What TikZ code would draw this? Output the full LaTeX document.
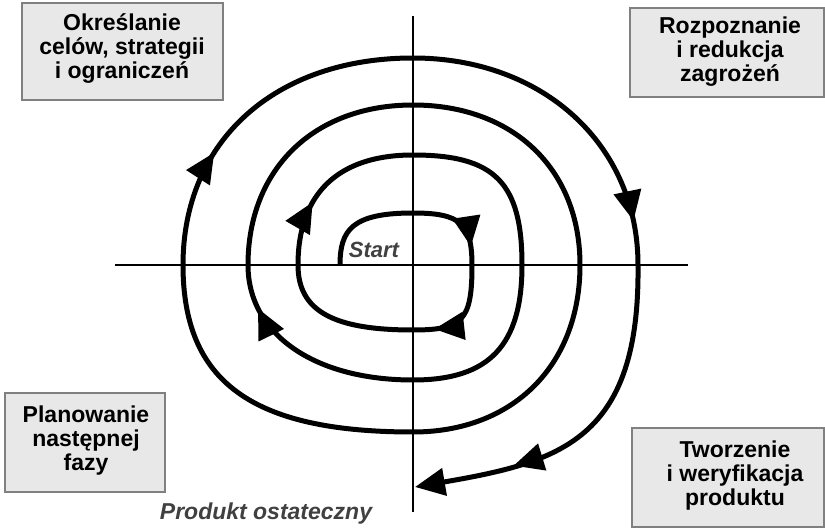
\documentclass[tikz,border=0pt]{standalone}
\usepackage{fontspec}
\setmainfont{Liberation Sans}
\usetikzlibrary{arrows.meta,decorations.markings}
\definecolor{boxfill}{HTML}{E8E8E8}
\definecolor{boxline}{HTML}{808080}
\definecolor{labgray}{HTML}{404040}
\tikzset{
  boxtext/.style={align=center,font=\fontsize{23bp}{24bp}\selectfont\bfseries,text=black,inner sep=0pt},
  phasebox/.style={fill=boxfill,draw=boxline,line width=1.5bp},
  axis/.style={line width=1.8bp,black},
  spiral/.style={line width=5bp,black},
  bigtri/.tip={Triangle[length=30bp,width=27bp]},
  midarrow/.style={postaction={decorate},decoration={markings,mark=at position #1 with {\arrow{bigtri}}}},
}
\begin{document}
\begin{tikzpicture}[x=1bp,y=-1bp]
\useasboundingbox (0,0) rectangle (825,528);
% boxes
\draw[phasebox] (22,3) rectangle (223,100);
\draw[phasebox] (630,8) rectangle (824,97);
\draw[phasebox] (5,393) rectangle (165,492);
\draw[phasebox] (632,428) rectangle (824,527);
\node[boxtext] (b1) at (122,49) {Określanie\\celów, strategii\\i ograniczeń};
\node[boxtext] (b2) at (730,52) {Rozpoznanie\\i redukcja\\zagrożeń};
\node[boxtext] (b3) at (86,441) {Planowanie\\następnej\\fazy};
\node[boxtext] (b4) at (735,476) {Tworzenie\\i weryfikacja\\produktu};
% axes
\coordinate (xl) at (115,265); \coordinate (xr) at (688,265);
\coordinate (yt) at (413,16); \coordinate (yb) at (413,512);
\draw[axis] (xl) -- (xr);
\draw[axis] (yt) -- (yb);
% labels
\node[font=\fontsize{22bp}{23bp}\selectfont\bfseries\itshape,text=labgray,inner sep=0pt] (start) at (374,250) {Start};
\node[font=\fontsize{23bp}{24bp}\selectfont\bfseries\itshape,text=labgray,inner sep=0pt] (prod) at (266,514) {Produkt ostateczny};
% spiral points
\coordinate (S0) at (340,265);
\coordinate (T1) at (413,213);
\coordinate (R1) at (472,265);
\coordinate (B1) at (413,330);
\coordinate (L1) at (298,265);
\coordinate (T2) at (413,155);
\coordinate (R2) at (522,265);
\coordinate (B2) at (413,380);
\coordinate (L2) at (248,265);
\coordinate (T3) at (413,105);
\coordinate (R3) at (580,265);
\coordinate (B3) at (413,432);
\coordinate (L3) at (183,265);
\coordinate (T4) at (413,58);
\coordinate (R4) at (638,265);
\coordinate (E) at (415,487);
% spiral
\draw[spiral] (S0) .. controls (340,230) and (352,213) .. (T1);
\draw[spiral,midarrow=0.8] (T1) .. controls (460.2,213) and (472,223.4) .. (R1);
\draw[spiral,midarrow=0.8] (R1) .. controls (472,320.3) and (463.2,330) .. (B1);
\draw[spiral] (B1) .. controls (332.5,330) and (298,310.5) .. (L1);
\draw[spiral,midarrow=0.36] (L1) .. controls (298,193.5) and (338.3,155) .. (T2);
\draw[spiral] (T2) .. controls (494.8,155) and (522,182.5) .. (R2);
\draw[spiral] (R2) .. controls (522,345.5) and (489.3,380) .. (B2);
\draw[spiral,midarrow=0.8] (B2) .. controls (314,380) and (248,334) .. (L2);
\draw[spiral] (L2) .. controls (248,169) and (314,105) .. (T3);
\draw[spiral] (T3) .. controls (513.2,105) and (580,169) .. (R3);
\draw[spiral] (R3) .. controls (580,365.2) and (513.2,432) .. (B3);
\draw[spiral] (B3) .. controls (252,432) and (183,381.9) .. (L3);
\draw[spiral,midarrow=0.34] (L3) .. controls (183,140.8) and (275,58) .. (T4);
\draw[spiral,midarrow=0.87] (T4) .. controls (543.5,58) and (638,145) .. (R4);
\draw[spiral,midarrow=0.72,-bigtri] (R4) .. controls (640,440) and (560,462) .. (E);
\end{tikzpicture}
\end{document}
